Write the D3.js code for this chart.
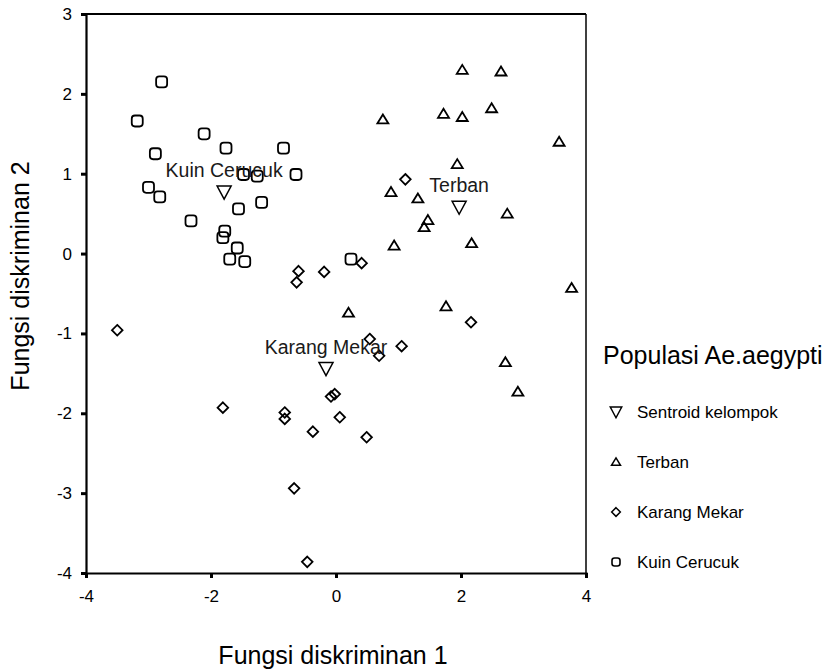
<!DOCTYPE html>
<html>
<head>
<meta charset="utf-8">
<script src="https://cdnjs.cloudflare.com/ajax/libs/d3/7.8.5/d3.min.js"></script>
<style>
  body { margin: 0; background: #fff; }
  svg { display: block; font-family: "Liberation Sans", Arial, Helvetica, sans-serif; }
</style>
</head>
<body>
<div id="chart"></div>
<script>
// discriminant scores per group, [fungsi 1, fungsi 2]
var terban = [
  [2.02, 2.30], [2.64, 2.28], [2.49, 1.82], [0.75, 1.68], [1.72, 1.75],
  [2.02, 1.71], [3.57, 1.40], [1.94, 1.12], [0.88, 0.77], [1.31, 0.69],
  [2.74, 0.50], [1.47, 0.42], [1.41, 0.33], [0.93, 0.10], [2.17, 0.13],
  [3.77, -0.43], [0.20, -0.74], [1.76, -0.66], [2.71, -1.36], [2.91, -1.73]
];
var karangMekar = [
  [1.11, 0.93], [0.41, -0.12], [-0.19, -0.23], [-0.60, -0.22], [-0.63, -0.36],
  [-3.50, -0.96], [-1.81, -1.93], [-0.82, -1.99], [-0.82, -2.07], [-0.67, -2.94],
  [2.16, -0.86], [0.54, -1.07], [1.05, -1.16], [0.69, -1.28], [-0.08, -1.79],
  [-0.02, -1.76], [0.06, -2.05], [-0.37, -2.23], [0.49, -2.30], [-0.46, -3.86]
];
var kuinCerucuk = [
  [-2.79, 2.15], [-3.18, 1.66], [-2.11, 1.50], [-1.76, 1.32], [-0.84, 1.32],
  [-2.89, 1.25], [-1.48, 0.99], [-1.26, 0.97], [-0.64, 0.99], [-3.00, 0.83],
  [-2.82, 0.71], [-1.19, 0.64], [-1.56, 0.56], [-2.32, 0.41], [-1.78, 0.28],
  [-1.81, 0.20], [-1.58, 0.07], [-1.70, -0.07], [-1.46, -0.10], [0.24, -0.07]
];
var centroidNames = ["Terban", "Karang Mekar", "Kuin Cerucuk"];
var centroids = [[1.97, 0.58], [-0.16, -1.44], [-1.79, 0.77]];
var legendTitle = "Populasi Ae.aegypti";
var legendLabels = ["Sentroid kelompok", "Terban", "Karang Mekar", "Kuin Cerucuk"];
var xTicks = [-4, -2, 0, 2, 4];
var yTicks = [-4, -3, -2, -1, 0, 1, 2, 3];

var width = 830, height = 672;
var offsets = { left: 86, top: 14, right: 586, bottom: 573 };

var svg = d3.select('#chart').append('svg').attr('width', width).attr('height', height);

var x = d3.scaleLinear().domain([-4, 4]).range([offsets.left, offsets.right]);
var y = d3.scaleLinear().domain([-4, 3]).range([offsets.bottom, offsets.top]);

// marker shapes
var shapes = {
  up: "M0,-5L5.5,4L-5.5,4Z",
  diamond: "M0,-5.3L5.3,0L0,5.3L-5.3,0Z",
  down: "M-7,-6L7,-6L0,7Z"
};

// frame (top and right thinner)
svg.append('line').attr('x1', x(-4)).attr('x2', x(4)).attr('y1', y(3)).attr('y2', y(3))
  .attr('stroke', '#000').attr('stroke-width', 2);
svg.append('line').attr('x1', x(4)).attr('x2', x(4)).attr('y1', y(3)).attr('y2', y(-4))
  .attr('stroke', '#000').attr('stroke-width', 1.5);

var yAxis = svg.append('g').attr('transform', 'translate(' + offsets.left + ',0)')
  .call(d3.axisLeft(y).tickValues(yTicks).tickSize(5).tickPadding(9).tickFormat(d3.format('d')));
var xAxis = svg.append('g').attr('transform', 'translate(0,' + offsets.bottom + ')')
  .call(d3.axisBottom(x).tickValues(xTicks).tickSize(5).tickPadding(12).tickFormat(d3.format('d')));

[yAxis, xAxis].forEach(function(a) {
  a.select('.domain').attr('stroke', '#000').attr('stroke-width', 2.2);
  a.selectAll('.tick line').attr('stroke', '#000').attr('stroke-width', 3);
  a.selectAll('.tick text').attr('fill', '#000').style('font-size', '17px')
    .style('font-family', '"Liberation Sans", Arial, sans-serif')
    .text(function(d) { return d < 0 ? '-' + Math.abs(d) : d; });
});

// points
var pts = svg.append('g').attr('fill', 'none').attr('stroke', '#000');
pts.selectAll('path.terban').data(terban).enter().append('path').attr('class', 'terban')
  .attr('d', shapes.up).attr('stroke-width', 1.8)
  .attr('transform', function(d) { return 'translate(' + x(d[0]) + ',' + y(d[1]) + ')'; });
pts.selectAll('path.karang').data(karangMekar).enter().append('path').attr('class', 'karang')
  .attr('d', shapes.diamond).attr('stroke-width', 1.8)
  .attr('transform', function(d) { return 'translate(' + x(d[0]) + ',' + y(d[1]) + ')'; });
pts.selectAll('rect.kuin').data(kuinCerucuk).enter().append('rect').attr('class', 'kuin')
  .attr('x', function(d) { return x(d[0]) - 5.5; }).attr('y', function(d) { return y(d[1]) - 5.5; })
  .attr('width', 11).attr('height', 11).attr('rx', 3.2).attr('stroke-width', 1.8);

// centroids and their names
pts.selectAll('path.centroid').data(centroids).enter().append('path').attr('class', 'centroid')
  .attr('d', shapes.down).attr('stroke-width', 1.5)
  .attr('transform', function(d) { return 'translate(' + x(d[0]) + ',' + y(d[1]) + ')'; });
svg.selectAll('text.cname').data(centroids).enter().append('text').attr('class', 'cname')
  .attr('x', function(d) { return x(d[0]); }).attr('y', function(d) { return y(d[1]) - 15; })
  .attr('text-anchor', 'middle').style('font-size', '19.5px').attr('fill', '#1a1a1a')
  .text(function(d, i) { return centroidNames[i]; });

// axis titles
svg.append('text').attr('x', 333).attr('y', 664).attr('text-anchor', 'middle')
  .style('font-size', '25px').text('Fungsi diskriminan 1');
svg.append('text').attr('transform', 'translate(29,276) rotate(-90)').attr('text-anchor', 'middle')
  .style('font-size', '25px').text('Fungsi diskriminan 2');

// legend
var legend = svg.append('g').attr('transform', 'translate(603,0)');
legend.append('text').attr('x', 0).attr('y', 364).style('font-size', '25px').text(legendTitle);
var legendShapes = ['down', 'up', 'diamond', 'square'];
var item = legend.selectAll('g.item').data(legendLabels).enter().append('g').attr('class', 'item')
  .attr('transform', function(d, i) { return 'translate(0,' + (412 + i * 50) + ')'; });
item.each(function(d, i) {
  var g = d3.select(this);
  var s = legendShapes[i];
  if (s === 'square') {
    g.append('rect').attr('x', 9).attr('y', -4).attr('width', 8).attr('height', 8).attr('rx', 2.5)
      .attr('fill', 'none').attr('stroke', '#000').attr('stroke-width', 1.6);
  } else {
    g.append('path').attr('d', shapes[s]).attr('transform', 'translate(13,0) scale(0.82)')
      .attr('fill', 'none').attr('stroke', '#000').attr('stroke-width', 1.8);
  }
  g.append('text').attr('x', 34).attr('y', 6).style('font-size', '17px').text(d);
});
</script>
</body>
</html>
